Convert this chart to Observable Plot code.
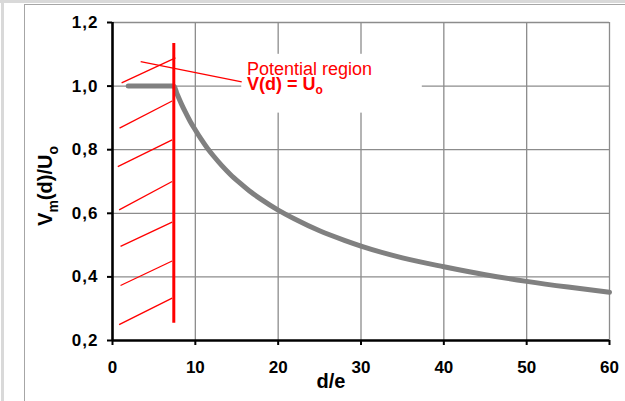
<!DOCTYPE html>
<html>
<head>
<meta charset="utf-8">
<script src="https://cdn.jsdelivr.net/npm/d3@7"></script>
<script src="https://cdn.jsdelivr.net/npm/@observablehq/plot@0.6"></script>
<style>
  html, body { margin: 0; padding: 0; background: #fff; }
  #wrap { position: relative; width: 625px; height: 401px; overflow: hidden; background: #fff; }
  .frame { position: absolute; }
  #chart { position: absolute; left: 0; top: 0; }
  #chart svg { background: transparent; }
</style>
</head>
<body>
<div id="wrap">
  <div class="frame" style="left:0;top:0;width:625px;height:3px;background:#d9d9d9"></div>
  <div class="frame" style="left:1px;top:0;width:3px;height:401px;background:#d9d9d9"></div>
  <div class="frame" style="left:24px;top:4px;width:601px;height:1px;background:#a6a6a6"></div>
  <div class="frame" style="left:24px;top:4px;width:1px;height:397px;background:#a6a6a6"></div>
  <div id="chart"></div>
</div>
<script>
// ---- data ----
const dValues = [1.9, 7.4, 7.8, 8.3, 8.8, 9.4, 10, 10.7, 11.5, 12.3, 13.2, 14.2, 15.3, 16.5, 18, 20, 22, 25, 28, 30, 35, 40, 45, 50, 55, 60];
const vValues = [1.0, 1.0, 0.975, 0.945, 0.918, 0.888, 0.862, 0.833, 0.803, 0.777, 0.750, 0.723, 0.697, 0.671, 0.643, 0.610, 0.582, 0.545, 0.515, 0.497, 0.460, 0.432, 0.407, 0.386, 0.368, 0.352];

const xTicks = [0, 10, 20, 30, 40, 50, 60];
const yTicks = [0.2, 0.4, 0.6, 0.8, 1.0, 1.2];
const yTickLabels = ["0,2", "0,4", "0,6", "0,8", "1,0", "1,2"];

// boundary of potential region (red wall)
const wallX = [7.4];
const wallY1 = [0.254];
const wallY2 = [1.134];

// hatch strokes: start (x1,y1) -> end (x2,y2)
const hatchX1 = [1.1, 0.85, 0.64, 0.8, 0.97, 0.97, 0.8];
const hatchY1 = [1.01, 0.868, 0.747, 0.611, 0.496, 0.373, 0.25];
const hatchX2 = [7.6, 7.2, 7.2, 7.2, 7.2, 7.2, 7.2];
const hatchY2 = [1.089, 0.953, 0.831, 0.70, 0.572, 0.45, 0.333];

// leader line to the annotation
const leaderX1 = [3.4];
const leaderY1 = [1.077];
const leaderX2 = [15.6];
const leaderY2 = [1.013];

// annotation box and text
const boxX1 = [15.6], boxX2 = [37.4], boxY1 = [0.915], boxY2 = [1.10];
const annotX = 16.3;
const annotLine1 = "Potential region";
const annotLine2 = "V(d) = U";
const annotSub = "o";
const annotY1 = 1.033;
const annotY2 = 0.986;

// axis titles
const xTitle = "d/e";
const yTitleParts = [["V", false], ["m", true], ["(d)/U", false], ["o", true]];

// ---- build ----
const curve = dValues.map((d, i) => ({d, v: vValues[i]}));
const hatch = hatchX1.map((x1, i) => ({x1, y1: hatchY1[i], x2: hatchX2[i], y2: hatchY2[i]}));
const leader = leaderX1.map((x1, i) => ({x1, y1: leaderY1[i], x2: leaderX2[i], y2: leaderY2[i]}));
const wall = wallX.map((x, i) => ({x, y1: wallY1[i], y2: wallY2[i]}));
const box = boxX1.map((x1, i) => ({x1, x2: boxX2[i], y1: boxY1[i], y2: boxY2[i]}));

const FONT = "'Liberation Sans', Arial, Helvetica, sans-serif";
const RED = "#ff0000";

const chart = Plot.plot({
  width: 625,
  height: 401,
  marginLeft: 112,
  marginRight: 16,
  marginTop: 22,
  marginBottom: 61,
  style: {fontFamily: FONT, background: "transparent", overflow: "visible"},
  x: {domain: [0, 60]},
  y: {domain: [0.2, 1.2]},
  marks: [
    Plot.gridX(xTicks.slice(1), {stroke: "#8c8c8c", strokeOpacity: 1, strokeWidth: 1.3}),
    Plot.gridY(yTicks.slice(1), {stroke: "#8c8c8c", strokeOpacity: 1, strokeWidth: 1.3}),
    Plot.rect(box, {x1: "x1", x2: "x2", y1: "y1", y2: "y2", fill: "white"}),
    Plot.axisY(yTicks, {
      tickFormat: (d) => yTickLabels[yTicks.indexOf(d)],
      tickSize: 5, tickPadding: 9, strokeWidth: 2, stroke: "black",
      fontSize: 17, fontWeight: "bold", fill: "black", label: null
    }),
    Plot.axisX(xTicks, {
      tickFormat: d => String(d),
      tickSize: 5, tickPadding: 15, strokeWidth: 2, stroke: "black",
      fontSize: 17, fontWeight: "bold", fill: "black", label: null
    }),
    Plot.ruleX([0], {stroke: "black", strokeWidth: 2.6}),
    Plot.ruleY([0.2], {stroke: "black", strokeWidth: 2.6}),
    Plot.link(hatch, {x1: "x1", y1: "y1", x2: "x2", y2: "y2", stroke: RED, strokeWidth: 1.3}),
    Plot.link(leader, {x1: "x1", y1: "y1", x2: "x2", y2: "y2", stroke: RED, strokeWidth: 1.3}),
    Plot.line(curve, {x: "d", y: "v", stroke: "#808080", strokeWidth: 5, strokeLinecap: "round", strokeLinejoin: "round", curve: "monotone-x"}),
    Plot.ruleX(wall, {x: "x", y1: "y1", y2: "y2", stroke: RED, strokeWidth: 3})
  ]
});

document.getElementById("chart").appendChild(chart);

const svg = d3.select(chart);
const sx = chart.scale("x"), sy = chart.scale("y");

// widen y tick labels a little like the original
svg.selectAll('[aria-label="y-axis tick label"] text').style("letter-spacing", "1px");

// annotation text
const ann = svg.append("g").attr("font-family", FONT).attr("fill", RED).attr("text-anchor", "start");
ann.append("text")
  .attr("x", sx.apply(annotX)).attr("y", sy.apply(annotY1))
  .attr("font-size", 18).text(annotLine1);
const t2 = ann.append("text")
  .attr("x", sx.apply(annotX)).attr("y", sy.apply(annotY2))
  .attr("font-size", 18).attr("font-weight", "bold");
t2.append("tspan").text(annotLine2);
t2.append("tspan").attr("font-size", 12).attr("dy", 4).text(annotSub);

// axis titles
svg.append("text")
  .attr("x", 331).attr("y", 388)
  .attr("text-anchor", "middle")
  .attr("font-family", FONT).attr("font-size", 20).attr("font-weight", "bold")
  .attr("fill", "black").text(xTitle);

const yMid = (sy.apply(0.2) + sy.apply(1.2)) / 2;
const yt = svg.append("text")
  .attr("transform", `translate(52,${yMid + 5}) rotate(-90)`)
  .attr("text-anchor", "middle")
  .attr("font-family", FONT).attr("font-size", 20).attr("font-weight", "bold")
  .attr("fill", "black");
let lastSub = false;
yTitleParts.forEach(([s, sub]) => {
  const ts = yt.append("tspan").text(s);
  if (sub) { ts.attr("font-size", 14).attr("dy", 6); lastSub = true; }
  else if (lastSub) { ts.attr("dy", -6); lastSub = false; }
});
</script>
</body>
</html>
